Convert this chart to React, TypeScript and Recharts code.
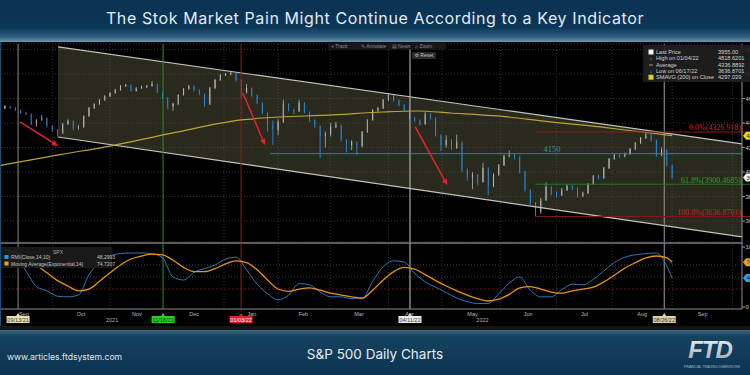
import React from "react";
import {
  ComposedChart,
  Bar,
  Line,
  Area,
  XAxis,
  YAxis,
  CartesianGrid,
  ReferenceLine,
} from "recharts";

// ---- price candles (one candle per ~2 sessions) ----
const firstOpen = 4520;
const closes = [
  4535, 4525, 4505, 4482, 4475, 4392, 4425, 4441, 4376, 4343,
  4318, 4392, 4417, 4360, 4368, 4457, 4523, 4555, 4588, 4620,
  4645, 4670, 4702, 4711, 4662, 4686, 4694, 4702, 4719, 4653,
  4604, 4539, 4555, 4629, 4678, 4702, 4670, 4637, 4555, 4686,
  4751, 4792, 4800, 4808, 4751, 4653, 4686, 4629, 4564, 4482,
  4384, 4343, 4409, 4555, 4506, 4498, 4564, 4490, 4425, 4376,
  4294, 4310, 4368, 4384, 4262, 4221, 4245, 4213, 4327, 4425,
  4506, 4523, 4588, 4629, 4588, 4547, 4506, 4441, 4425, 4392,
  4474, 4441, 4302, 4221, 4262, 4196, 4245, 4017, 3960, 3976,
  3919, 4033, 3886, 3976, 4057, 4131, 4139, 4123, 4001, 3853,
  3747, 3674, 3772, 3878, 3821, 3813, 3853, 3886, 3870, 3805,
  3829, 3902, 3968, 3952, 4033, 4107, 4139, 4131, 4147, 4188,
  4237, 4278, 4302, 4262, 4139, 4180, 4057, 3955,
];
const highs = [
  4545, 4540, 4528, 4510, 4492, 4478, 4430, 4465, 4445, 4380,
  4350, 4400, 4430, 4420, 4385, 4462, 4530, 4560, 4595, 4625,
  4650, 4680, 4710, 4718, 4715, 4692, 4705, 4712, 4743, 4722,
  4660, 4610, 4565, 4635, 4685, 4712, 4706, 4675, 4640, 4692,
  4758, 4798, 4808, 4819, 4812, 4755, 4720, 4690, 4632, 4570,
  4488, 4420, 4430, 4590, 4560, 4515, 4590, 4570, 4495, 4430,
  4380, 4330, 4400, 4410, 4390, 4270, 4260, 4250, 4335, 4430,
  4512, 4530, 4595, 4637, 4632, 4592, 4555, 4510, 4450, 4430,
  4490, 4480, 4445, 4305, 4300, 4270, 4305, 4250, 4030, 4000,
  3985, 4075, 4040, 3990, 4065, 4140, 4175, 4150, 4130, 4010,
  3860, 3755, 3790, 3915, 3885, 3840, 3870, 3900, 3895, 3875,
  3840, 3910, 3975, 3980, 4040, 4115, 4150, 4150, 4160, 4195,
  4245, 4285, 4325, 4310, 4265, 4203, 4185, 4060,
];
const lows = [
  4515, 4515, 4498, 4476, 4465, 4380, 4370, 4418, 4365, 4330,
  4290, 4310, 4385, 4340, 4345, 4362, 4450, 4515, 4550, 4580,
  4612, 4640, 4665, 4695, 4655, 4658, 4680, 4690, 4698, 4645,
  4595, 4510, 4500, 4550, 4625, 4672, 4660, 4625, 4532, 4550,
  4680, 4745, 4785, 4790, 4740, 4600, 4640, 4615, 4555, 4470,
  4330, 4222, 4300, 4400, 4495, 4470, 4490, 4480, 4410, 4360,
  4114, 4200, 4290, 4360, 4250, 4160, 4180, 4140, 4200, 4320,
  4420, 4490, 4515, 4580, 4575, 4535, 4495, 4430, 4410, 4380,
  4385, 4430, 4290, 4170, 4200, 4180, 4190, 4000, 3930, 3860,
  3890, 3915, 3810, 3875, 3970, 4050, 4120, 4100, 3990, 3840,
  3730, 3637, 3660, 3765, 3810, 3795, 3805, 3845, 3850, 3790,
  3795, 3820, 3895, 3940, 3945, 4025, 4100, 4115, 4120, 4140,
  4180, 4230, 4270, 4250, 4125, 4130, 4045, 3945,
];

// 200-day SMA
const smaIdx = [-0.75, 10.5, 20, 32, 45, 49, 62.5, 72, 78.5, 84.8, 93.7, 103.8, 113.3, 119.6, 127];
const smaVals = [4055, 4142, 4212, 4319, 4425, 4441, 4466, 4490, 4498, 4482, 4458, 4409, 4368, 4335, 4297];

// drawn channel
const channelIdx = [10.1, 140.3];
const channelHi = [5021, 4230];
const channelLo = [4286, 3470];

// fibonacci / level lines
const fibStart = 101;
const fibValues = [4326.918, 3900.4685, 3636.8701];
const fibLabels = ["0.0%(4326.918)", "61.8%(3900.4685)", "100.0%(3636.8701)"];
const levelValue = 4150;
const levelStart = 50.5;
const levelLabelAt = 102.5;

// red arrows [idx, price]
const arrowFrom = [[2.9, 4409], [45.3, 4645], [78.1, 4368]];
const arrowTo = [[10.1, 4213], [49.5, 4221], [84.2, 3894]];

// RMI and its EMA, every second candle then the last one
const rmiVals = [
  95, 86, 60, 34, 27, 18, 17, 20, 54, 74, 85, 89, 90, 90, 89, 82, 50, 45, 58, 64,
  70, 80, 83, 62, 38, 22, 12, 20, 39, 37, 25, 17, 17, 14, 14, 43, 67, 77, 75, 56,
  42, 33, 24, 15, 9, 6, 6, 22, 40, 50, 28, 17, 17, 29, 38, 37, 46, 60, 74, 83,
  87, 89, 90, 68, 48.3,
];
const emaVals = [
  95, 91, 84, 70, 57, 44, 35, 27, 30, 43, 57, 70, 80, 85, 88, 87, 78, 66, 59, 59,
  64, 72, 77, 74, 62, 45, 30, 26, 30, 32, 28, 23, 20, 17, 15, 28, 45, 59, 66, 63,
  54, 44, 35, 27, 20, 14, 10, 13, 21, 32, 34, 30, 25, 23, 27, 30, 33, 42, 53, 65,
  74, 82, 85, 82, 74.7,
];

// axes
const monthNames = ["Sep", "Oct", "Nov", "Dec", "Jan", "Feb", "Mar", "Apr", "May", "Jun", "Jul", "Aug", "Sep"];
const monthCenters = [3.6, 14.5, 25.1, 36, 47, 56.8, 67.4, 77, 89, 99.6, 110.3, 121.3, 132.8];
const monthBounds = [9.1, 20, 30.1, 41.7, 52, 61.9, 73, 83.2, 94.3, 105, 115.6, 127, 138.5];
const yearNames = ["2021", "2022"];
const yearPos = [20.4, 90.9];
const priceTicks = [3600, 3800, 4000, 4200, 4400, 4600, 4800, 5000];

// cursors
const cursorIdx = [2.5, 30.1, 44.95, 77.1, 125.5];
const cursorDates = ["09/13/21", "11/18/21", "01/03/22", "04/11/22", "08/26/22"];
const cursorColors = ["#8a8a8a", "#1f8f1f", "#9c1a1a", "#c8c8c8", "#9a9a9a"];
const tagBg = ["#e8e0b0", "#23d023", "#e02020", "#ececec", "#ddd3a0"];
const tagFg = ["#333", "#0a3a0a", "#fff", "#333", "#333"];

const X_DOMAIN: [number, number] = [-0.75, 140.3];
const TINY = "'Liberation Sans', 'DejaVu Sans', sans-serif";

const candles = closes.map((c, i) => ({
  i,
  o: i === 0 ? firstOpen : closes[i - 1],
  c,
  h: highs[i],
  l: lows[i],
}));
const smaData = smaIdx.map((i, k) => ({ i, v: smaVals[k] }));
const channel = channelIdx.map((i, k) => ({ i, hi: channelHi[k], lo: channelLo[k] }));
const rsiData = rmiVals.map((v, k) => ({ i: k < 64 ? k * 2 : 127, rmi: v, ema: emaVals[k] }));

const Candle = (props: any) => {
  const { x, y, width, height, payload } = props;
  if (!payload) return null;
  const { o, c, h, l } = payload;
  const top = Math.min(y, y + height);
  const hh = Math.abs(height);
  const k = h > l ? hh / (h - l) : 0;
  const bTop = top + (h - Math.max(o, c)) * k;
  const bH = Math.max(1.2, Math.abs(o - c) * k);
  const up = c >= o;
  const cx = x + width / 2;
  const col = up ? "#b4b4b4" : "#2b95f2";
  return (
    <g>
      <line x1={cx} x2={cx} y1={top} y2={top + hh} stroke={col} strokeWidth={0.8} />
      <rect x={x} y={bTop} width={width} height={bH} fill={up ? "#7c7c7c" : "#2b95f2"} stroke={up ? "#b4b4b4" : "none"} strokeWidth={0.6} />
    </g>
  );
};

const PriceTick = (props: any) => {
  const { x, y, payload } = props;
  return (
    <g>
      <line x1={x} x2={x + 3} y1={y} y2={y} stroke="#9a9a9a" />
      <text x={x + 3.5} y={y + 2} fontSize={6} fontFamily={TINY} fill="#cfcfcf">{payload.value}</text>
    </g>
  );
};

const MonthTick = (props: any) => {
  const { x, y, payload } = props;
  const k = monthCenters.indexOf(payload.value);
  return (
    <text x={x} y={y + 5} fontSize={5.5} fontFamily={TINY} fill="#bdbdbd" textAnchor="middle">
      {monthNames[k]}
    </text>
  );
};

const arrowShape = (p: any) => {
  const { x1, y1, x2, y2 } = p;
  const a = Math.atan2(y2 - y1, x2 - x1);
  const L = 6, Wd = 2.8;
  const bx = x2 - L * Math.cos(a), by = y2 - L * Math.sin(a);
  const pts = `${x2},${y2} ${bx - Wd * Math.sin(a)},${by + Wd * Math.cos(a)} ${bx + Wd * Math.sin(a)},${by - Wd * Math.cos(a)}`;
  return (
    <g>
      <line x1={x1} y1={y1} x2={bx} y2={by} stroke="#e3262c" strokeWidth={1.5} />
      <polygon points={pts} fill="#e3262c" />
    </g>
  );
};

const fibColors = ["#8e1c1c", "#1f7a22", "#861818"];
const fibText = ["#cf2a2a", "#2aa52a", "#c42424"];

const fibShape = (k: number) => (p: any) => {
  const { x1, y1, x2 } = p;
  const xr = Math.max(x1, x2);
  return (
    <g>
      <line x1={Math.min(x1, x2)} x2={xr + 8} y1={y1} y2={y1} stroke={fibColors[k]} strokeWidth={1} />
      <text x={xr - 1} y={y1 - 1.5} fontSize={8} fontFamily="'Liberation Serif', serif" fill={fibText[k]} textAnchor="end">
        {fibLabels[k]}
      </text>
    </g>
  );
};

const tagShape = (bg: string, label: string) => (p: any) => {
  const xr = Math.max(p.x1, p.x2) + 1;
  const y = p.y1;
  return (
    <g>
      <polygon points={`${xr},${y} ${xr + 3},${y - 4} ${xr + 20},${y - 4} ${xr + 20},${y + 4} ${xr + 3},${y + 4}`} fill={bg} />
      <text x={xr + 3.5} y={y + 2} fontSize={5.5} fontFamily={TINY} fill="#222">{label}</text>
    </g>
  );
};

const cursorShape = (k: number) => (p: any) => {
  const { x1, y1, y2 } = p;
  const bottom = Math.max(y1, y2);
  return (
    <g>
      <line x1={x1} x2={x1} y1={Math.min(y1, y2)} y2={bottom} stroke={cursorColors[k]} strokeWidth={1} />
      <polygon points={`${x1},${bottom + 4} ${x1 - 2},${bottom + 7} ${x1 + 2},${bottom + 7}`} fill={tagBg[k]} />
      <rect x={x1 - 11.5} y={bottom + 7} width={23} height={7} fill={tagBg[k]} />
      <text x={x1} y={bottom + 12.5} fontSize={5.5} fontFamily={TINY} fill={tagFg[k]} textAnchor="middle">
        {cursorDates[k]}
      </text>
    </g>
  );
};

const yearShape = (k: number) => (p: any) => {
  const bottom = Math.max(p.y1, p.y2);
  return (
    <text x={p.x1} y={bottom + 13} fontSize={5.5} fontFamily={TINY} fill="#b5b5b5" textAnchor="middle">
      {yearNames[k]}
    </text>
  );
};

const PriceChart = () => (
  <ComposedChart width={750} height={200} data={candles} margin={{ top: 2, right: 0, bottom: 0, left: 1 }}>
    <CartesianGrid stroke="#333" strokeDasharray="1 2" />
    <XAxis type="number" dataKey="i" domain={X_DOMAIN} ticks={monthBounds} hide allowDataOverflow />
    <YAxis
      orientation="right"
      width={8}
      domain={[3429, 5045]}
      ticks={priceTicks}
      interval={0}
      allowDataOverflow
      axisLine={{ stroke: "#8c8c8c" }}
      tickLine={false}
      tickSize={0}
      tickMargin={0}
      tick={<PriceTick />}
    />
    <Area data={channel} dataKey={(d: any) => [d.lo, d.hi]} stroke="none" fill="#5c5c42" fillOpacity={0.45} isAnimationActive={false} />
    <Line data={channel} dataKey="hi" stroke="#c4c4bc" strokeWidth={1.2} dot={false} isAnimationActive={false} />
    <Line data={channel} dataKey="lo" stroke="#c4c4bc" strokeWidth={1.2} dot={false} isAnimationActive={false} />
    {cursorIdx.map((x, k) => (
      <ReferenceLine key={"c" + k} x={x} stroke={cursorColors[k]} strokeWidth={1} />
    ))}
    <ReferenceLine
      segment={[{ x: levelStart, y: levelValue }, { x: X_DOMAIN[1], y: levelValue }]}
      stroke="#1f8c8c"
      strokeWidth={1}
    />
    <Line data={smaData} dataKey="v" type="monotone" stroke="#b9a633" strokeWidth={1.2} dot={false} isAnimationActive={false} />
    <Bar dataKey={(d: any) => [d.l, d.h]} barSize={4} shape={Candle} isAnimationActive={false} />
    {fibValues.map((v, k) => (
      <ReferenceLine key={"f" + k} segment={[{ x: fibStart, y: v }, { x: X_DOMAIN[1], y: v }]} shape={fibShape(k)} />
    ))}
    <ReferenceLine
      segment={[{ x: levelLabelAt, y: levelValue }, { x: levelLabelAt + 4, y: levelValue }]}
      shape={(p: any) => (
        <text x={p.x1} y={p.y1 - 1.5} fontSize={8.5} fontFamily="'Liberation Serif', serif" fill="#2a9a9a">
          {levelValue}
        </text>
      )}
    />
    {arrowFrom.map((a, k) => (
      <ReferenceLine key={"a" + k} segment={[{ x: a[0], y: a[1] }, { x: arrowTo[k][0], y: arrowTo[k][1] }]} shape={arrowShape} />
    ))}
    <ReferenceLine y={smaVals[smaVals.length - 1]} shape={tagShape("#e6d21c", "4297.04")} />
    <ReferenceLine y={closes[closes.length - 1]} shape={tagShape("#ececec", "3955.00")} />
  </ComposedChart>
);

const RsiChart = () => (
  <ComposedChart width={750} height={88} data={rsiData} margin={{ top: 1, right: 0, bottom: 0, left: 1 }}>
    <XAxis
      type="number"
      dataKey="i"
      domain={X_DOMAIN}
      ticks={monthCenters}
      interval={0}
      height={21}
      allowDataOverflow
      axisLine={{ stroke: "#8c8c8c" }}
      tickLine={false}
      tickSize={0}
      tick={<MonthTick />}
    />
    <YAxis
      orientation="right"
      width={8}
      domain={[-3.3, 106.7]}
      ticks={[0, 100]}
      interval={0}
      allowDataOverflow
      axisLine={{ stroke: "#8c8c8c" }}
      tickLine={false}
      tickSize={0}
      tickMargin={0}
      tick={<PriceTick />}
    />
    {monthBounds.map((x, k) => (
      <ReferenceLine key={"g" + k} x={x} stroke="#333" strokeDasharray="1 2" />
    ))}
    <ReferenceLine y={70} stroke="#3a3a3a" strokeDasharray="1 2" />
    <ReferenceLine y={50} stroke="#3a3a3a" strokeDasharray="1 2" />
    <ReferenceLine y={30} stroke="#5a1a1a" strokeDasharray="2 2" />
    {cursorIdx.map((x, k) => (
      <ReferenceLine key={"c" + k} x={x} shape={cursorShape(k)} />
    ))}
    {yearPos.map((x, k) => (
      <ReferenceLine key={"y" + k} x={x} shape={yearShape(k)} />
    ))}
    <Line dataKey="rmi" type="monotone" stroke="#2f78b8" strokeWidth={1} dot={false} isAnimationActive={false} />
    <Line dataKey="ema" type="monotone" stroke="#e8930f" strokeWidth={1.3} dot={false} isAnimationActive={false} />
    <ReferenceLine y={emaVals[emaVals.length - 1]} shape={tagShape("#f0a020", "74.72")} />
    <ReferenceLine y={rmiVals[rmiVals.length - 1]} shape={tagShape("#2ea0f0", "48.30")} />
  </ComposedChart>
);

const legendRows = [
  ["Last Price", "3955.00"],
  ["High on 01/04/22", "4818.6201"],
  ["Average", "4336.8892"],
  ["Low on 06/17/22", "3636.8701"],
  ["SMAVG (200)  on Close", "4297.039"],
];

const Overlay = () => (
  <svg width={750} height={375} style={{ position: "absolute", left: 0, top: 0, pointerEvents: "none" }}>
    {/* toolbar */}
    <rect x={328} y={42.5} width={118} height={7} fill="#171717" />
    <g fontSize={5} fontFamily={TINY} fill="#8d8d8d">
      <text x={331} y={48}>+ Track</text>
      <text x={361} y={48}>✎ Annotate</text>
      <text x={392} y={48}>▤ News</text>
      <text x={415} y={48}>⌕ Zoom</text>
    </g>
    <rect x={412} y={52} width={24} height={7} rx={1} fill="#2a2a2a" />
    <text x={414.5} y={57.3} fontSize={5} fontFamily={TINY} fill="#c8c8c8">⚙ Reset</text>

    {/* price legend */}
    <rect x={643} y={45} width={107} height={37} fill="#202020" fillOpacity={0.92} />
    <g fontSize={5.6} fontFamily={TINY} fill="#d2d2d2">
      {legendRows.map((r, k) => (
        <g key={k}>
          <text x={656} y={54 + k * 6.3}>{r[0]}</text>
          <text x={718} y={54 + k * 6.3}>{r[1]}</text>
        </g>
      ))}
    </g>
    <rect x={648.5} y={49.5} width={5} height={5} fill="#f4f4f4" />
    <text x={649.5} y={60.5} fontSize={5.5} fontFamily={TINY} fill="#bbb">↑</text>
    <line x1={649} x2={653} y1={65} y2={65} stroke="#bbb" strokeWidth={0.8} />
    <text x={649.5} y={73} fontSize={5.5} fontFamily={TINY} fill="#bbb">↓</text>
    <rect x={648.5} y={74.7} width={5} height={5} fill="#e6d21c" />

    {/* RMI legend */}
    <rect x={1} y={247} width={111} height={21} fill="#1b1b1b" fillOpacity={0.92} />
    <g fontSize={5} fontFamily={TINY} fill="#c4c4c4">
      <text x={53} y={253.5} fill="#a8a8a8">SPX</text>
      <text x={11} y={259}>RMI(Close,14,10)</text>
      <text x={97} y={259}>48.2993</text>
      <text x={11} y={265.5}>Moving Average(Exponential,14)</text>
      <text x={97} y={265.5}>74.7207</text>
    </g>
    <rect x={4.5} y={255} width={4} height={4} fill="#1e9cf0" />
    <rect x={4.5} y={261.5} width={4} height={4} fill="#f0a020" />

    {/* footer logo */}
    <defs>
      <linearGradient id="ftd" x1="0" y1="0" x2="0" y2="1">
        <stop offset="0" stopColor="#f2f4f6" />
        <stop offset="1" stopColor="#9aa7b2" />
      </linearGradient>
    </defs>
    <text x={710} y={358} fontSize={24} fontWeight={900} fontStyle="italic" fontFamily="'Liberation Sans', sans-serif" fill="url(#ftd)" textAnchor="middle" letterSpacing={-1}>
      FTD
    </text>
    <text x={712} y={368} fontSize={3.4} fontFamily={TINY} fill="#a9b6c2" textAnchor="middle">
      FINANCIAL TRADING DIMENSIONS
    </text>
  </svg>
);

export default function App() {
  return (
    <div
      style={{
        position: "absolute",
        left: 0,
        top: 0,
        width: 750,
        height: 375,
        overflow: "hidden",
        background: "#0c3352",
        fontFamily: "Inter, 'Open Sans', sans-serif",
      }}
    >
      <div
        style={{
          position: "absolute",
          left: 0,
          top: 0,
          width: 750,
          height: 42,
          background: "linear-gradient(to bottom, #0a3253 0px, #0b3557 27px, #2e5e7e 37px, #6f98b0 42px)",
        }}
      />
      <div
        style={{
          position: "absolute",
          left: 0,
          top: 8,
          width: 750,
          textAlign: "center",
          color: "#e4ebf1",
          fontSize: 16,
          letterSpacing: 0.6,
          lineHeight: "20px",
        }}
      >
        The Stok Market Pain Might Continue According to a Key Indicator
      </div>
      <div style={{ position: "absolute", left: 0, top: 42, width: 750, height: 288, background: "#000", borderLeft: "1.5px solid #1d4f7d", boxSizing: "border-box" }} />
      <div style={{ position: "absolute", left: 0, top: 42 }}>
        <PriceChart />
      </div>
      <div style={{ position: "absolute", left: 0, top: 241.5, width: 743, height: 2, background: "#5c5c5c" }} />
      <div style={{ position: "absolute", left: 0, top: 242 }}>
        <RsiChart />
      </div>
      <div style={{ position: "absolute", left: 0, top: 326, width: 750, height: 4, background: "#141414" }} />
      <div
        style={{
          position: "absolute",
          left: 0,
          top: 330,
          width: 750,
          height: 45,
          background: "linear-gradient(to bottom, #3d6885 0px, #15425f 6px, #0c3352 100%)",
        }}
      />
      <div style={{ position: "absolute", left: 7, top: 351, color: "#dfe6ec", fontSize: 8.6, lineHeight: "12px" }}>
        www.articles.ftdsystem.com
      </div>
      <div style={{ position: "absolute", left: 0, top: 345, width: 750, textAlign: "center", color: "#e6ecf1", fontSize: 13.5, lineHeight: "18px" }}>
        S&amp;P 500 Daily Charts
      </div>
      <Overlay />
    </div>
  );
}
